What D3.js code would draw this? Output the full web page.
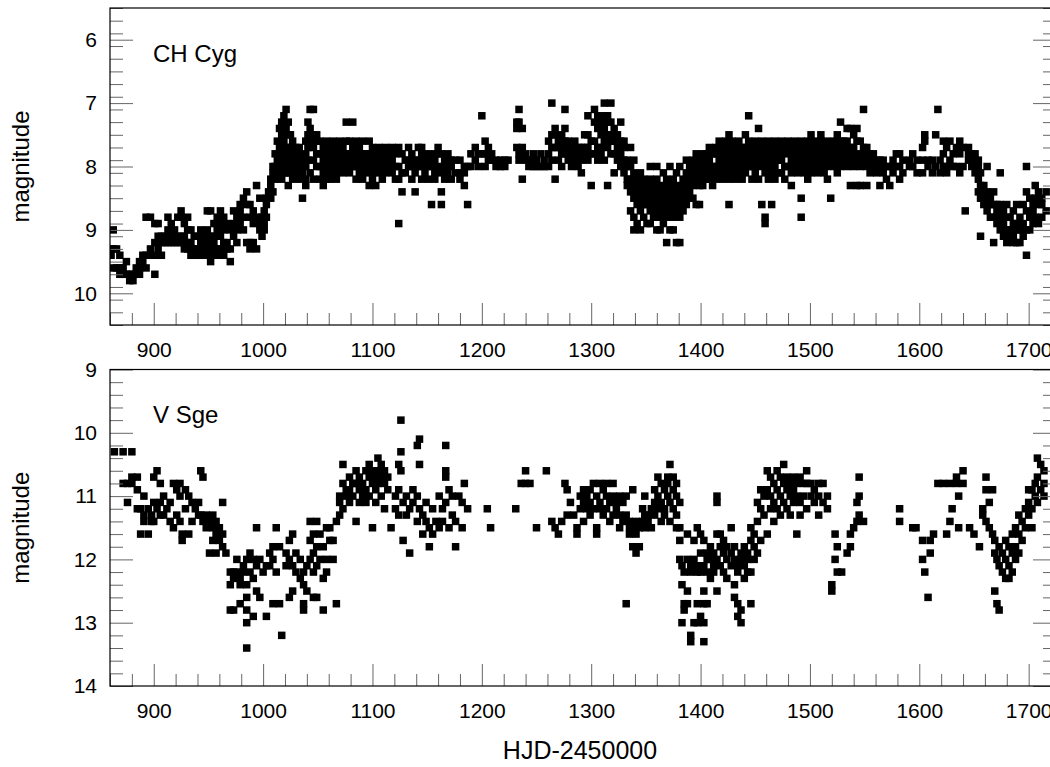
<!DOCTYPE html>
<html>
<head>
<meta charset="utf-8">
<script src="https://cdn.jsdelivr.net/npm/d3@7"></script>
<style>
  body { margin: 0; background: #fff; }
  svg { display: block; font-family: "Liberation Sans", Arial, sans-serif; }
  .tick line { stroke: #666; }
</style>
</head>
<body>
<svg width="1050" height="767"></svg>
<script>
// each row: [HJD-2450000, magnitude, magnitude, ...]
const chCygRows = [
  [861, 9.3, 9.4], [863, 9.0, 9.3, 9.6], [866, 9.3, 9.6], [869, 9.4, 9.6, 9.7],
  [872, 9.6, 9.7], [875, 9.5, 9.7], [878, 9.7, 9.8], [881, 9.8, 9.7],
  [884, 9.7, 9.6], [887, 9.6, 9.5, 9.7], [890, 9.5, 9.4], [893, 9.4, 9.6, 8.8],
  [897, 8.8, 9.3, 9.4], [901, 8.9, 9.2, 9.4, 9.7], [904, 8.9, 9.1, 9.3], [907, 9.2, 9.4, 9.1],
  [910, 9.1, 9.2], [913, 8.8, 9.0, 9.2], [916, 9.1, 9.2, 8.9], [919, 9.0, 9.2],
  [922, 9.1, 9.2, 8.8], [925, 8.7, 8.8, 9.1, 9.2], [928, 8.9, 9.1, 9.3], [931, 8.8, 9.0, 9.2, 9.3],
  [934, 9.0, 9.2, 9.4], [937, 9.1, 9.3, 9.4], [940, 9.1, 9.3, 9.4], [943, 9.0, 9.2, 9.4],
  [946, 9.1, 9.2, 9.3], [949, 8.7, 9.0, 9.2, 9.4], [952, 8.7, 9.1, 9.3, 9.5], [955, 8.9, 9.1, 9.2, 9.4],
  [958, 8.8, 9.0, 9.3, 9.4], [961, 8.7, 8.9, 9.1, 9.3], [964, 8.8, 9.0, 9.2, 9.4], [967, 8.9, 9.2, 9.3],
  [970, 9.0, 9.3, 9.5], [973, 8.7, 8.9, 9.1], [976, 8.8, 9.0, 9.2], [979, 8.6, 8.7, 8.9],
  [982, 8.5, 8.8, 9.0], [985, 8.4, 8.6, 9.2], [988, 8.6, 8.8, 9.2, 9.3], [991, 8.7, 8.9, 9.2],
  [994, 8.3, 8.8, 9.3], [997, 8.5, 8.9, 9.0], [999, 8.8, 9.1],
  [1001, 8.7, 8.9, 9.0], [1003, 8.5, 8.6, 8.8], [1005, 8.4, 8.5], [1007, 8.2, 8.3, 8.5],
  [1009, 8.0, 8.1, 8.4], [1011, 7.8, 8.0, 8.2], [1013, 7.6, 7.9, 8.1], [1015, 7.4, 7.7, 7.9, 8.0],
  [1017, 7.3, 7.5, 7.8, 8.0, 8.2], [1019, 7.2, 7.4, 7.6, 7.9, 8.1], [1021, 7.1, 7.4, 7.7, 8.0],
  [1023, 7.3, 7.5, 7.8, 8.1, 8.3], [1025, 7.5, 7.7, 7.9, 8.1], [1027, 7.6, 7.8, 8.0, 8.2],
  [1030, 7.7, 7.9, 8.1], [1033, 7.7, 7.8, 8.0, 8.2], [1036, 7.9, 8.1, 8.5], [1039, 7.6, 7.8, 8.0, 8.2, 8.3],
  [1041, 7.3, 7.5, 7.7, 7.9], [1043, 7.1, 7.4, 7.6, 8.1], [1046, 7.1, 7.5, 7.7, 7.9, 8.2],
  [1049, 7.5, 7.6, 7.8, 8.0], [1052, 7.6, 7.8, 8.0, 8.2], [1055, 7.7, 7.9, 8.1, 8.3],
  [1058, 7.6, 7.8, 8.0, 8.2], [1061, 7.7, 7.9, 8.1, 8.2], [1064, 7.6, 7.8, 8.0], [1067, 7.7, 7.9, 8.1, 8.2],
  [1070, 7.6, 7.8, 8.0], [1073, 7.7, 7.9, 8.1], [1076, 7.3, 7.6, 7.8, 8.0], [1079, 7.6, 7.8, 7.9, 8.1],
  [1082, 7.3, 7.7, 7.9, 8.0], [1085, 7.6, 7.8, 8.0, 8.2], [1088, 7.7, 7.9, 8.1], [1091, 7.6, 7.8, 8.0, 8.2],
  [1094, 7.8, 7.9, 8.1], [1097, 7.6, 7.8, 8.0, 8.3], [1100, 7.7, 7.9, 8.1, 8.2], [1103, 7.8, 8.0, 8.3],
  [1106, 7.7, 7.9, 8.1], [1109, 7.8, 8.0, 8.2], [1112, 7.7, 7.9, 8.1], [1115, 7.8, 8.0],
  [1118, 7.7, 7.9, 8.1], [1121, 7.8, 8.0, 8.2], [1124, 7.7, 8.0, 8.2, 8.9], [1127, 7.8, 8.1, 8.4],
  [1130, 7.9, 8.1], [1133, 7.7, 7.9, 8.0], [1136, 7.8, 8.0, 8.2], [1139, 7.9, 8.1, 8.4],
  [1142, 7.7, 7.9, 8.0], [1145, 7.7, 7.8, 8.0, 8.2], [1148, 7.8, 7.9, 8.1], [1151, 7.9, 8.0, 8.2],
  [1154, 7.8, 8.0, 8.6], [1157, 7.9, 8.1, 8.2], [1160, 7.7, 7.8, 8.0], [1163, 7.8, 8.1, 8.4, 8.6],
  [1166, 7.9, 8.0, 8.2], [1169, 7.8, 7.9, 8.1], [1172, 7.9, 8.0, 8.2], [1176, 7.9, 8.1],
  [1180, 7.9, 8.1, 8.2], [1184, 8.0, 8.1, 8.3], [1187, 8.0, 8.6], [1190, 7.8, 8.0],
  [1194, 7.7, 7.9], [1197, 7.8, 8.0], [1200, 7.2, 7.8], [1203, 7.6, 7.8, 8.0],
  [1206, 7.7, 7.9], [1209, 7.8, 7.9], [1213, 7.9, 8.0], [1217, 7.9, 8.0], [1221, 7.9, 8.0], [1224, 7.9],
  [1232, 7.3, 7.4, 7.7], [1234, 7.1, 7.3, 7.8, 7.9], [1237, 7.4, 7.7, 7.8, 8.2], [1240, 7.8, 7.9],
  [1243, 7.9, 8.0], [1247, 7.8, 7.9, 8.0], [1250, 7.9, 8.0], [1254, 7.8, 8.0], [1257, 7.9, 8.0],
  [1261, 7.6, 7.8, 8.0], [1264, 7.0, 7.5, 7.7, 7.9], [1267, 7.4, 7.5, 7.7, 8.2], [1270, 7.6, 7.7, 7.9],
  [1273, 7.5, 7.7, 7.8, 8.0], [1276, 7.1, 7.4, 7.6, 7.8], [1279, 7.6, 7.7, 7.9], [1282, 7.7, 7.8, 8.0],
  [1285, 7.6, 7.8, 7.9], [1288, 7.7, 7.8, 8.0], [1291, 7.7, 7.9, 8.1], [1294, 7.5, 7.7, 7.8],
  [1297, 7.2, 7.5, 7.7, 7.9], [1300, 7.6, 7.8, 8.3], [1303, 7.1, 7.3, 7.6, 7.8], [1306, 7.2, 7.4, 7.7, 7.9],
  [1309, 7.3, 7.5, 7.7, 7.8], [1312, 7.0, 7.2, 7.4, 7.6, 7.9], [1315, 7.2, 7.3, 7.5, 7.7, 8.3],
  [1318, 7.0, 7.3, 7.5, 7.6, 7.8], [1321, 7.4, 7.6, 7.8, 8.1], [1324, 7.5, 7.7, 7.9],
  [1327, 7.3, 7.6, 7.8, 8.0], [1330, 7.6, 7.7, 7.9, 8.1], [1333, 7.9, 8.0, 8.2, 8.3],
  [1336, 7.7, 8.0, 8.2, 8.4, 8.7], [1339, 7.9, 8.1, 8.3, 8.5, 8.8, 9.0],
  [1342, 8.2, 8.4, 8.6, 8.9], [1345, 8.1, 8.3, 8.5, 8.7, 9.0], [1348, 8.2, 8.4, 8.6, 8.8],
  [1351, 8.3, 8.5, 8.6, 8.9], [1354, 8.0, 8.2, 8.4, 8.7, 8.9], [1357, 8.3, 8.5, 8.6, 8.8],
  [1360, 8.0, 8.2, 8.4, 8.7, 9.0], [1363, 8.3, 8.5, 8.6, 8.8, 9.0], [1366, 8.1, 8.4, 8.5, 8.7, 8.9],
  [1369, 8.2, 8.3, 8.6, 8.8, 9.2], [1372, 8.0, 8.4, 8.5, 8.7, 9.0], [1375, 8.2, 8.3, 8.6, 8.8, 9.0],
  [1378, 8.1, 8.4, 8.5, 8.7, 9.2], [1381, 8.0, 8.3, 8.6, 8.8, 9.2], [1384, 8.2, 8.4, 8.5, 8.7],
  [1387, 7.9, 8.1, 8.3, 8.6], [1390, 8.0, 8.2, 8.4, 8.5], [1393, 7.9, 8.1, 8.3, 8.5], [1396, 7.8, 8.0, 8.2, 8.6],
  [1399, 7.9, 8.1, 8.3, 8.6], [1402, 7.8, 8.0, 8.2, 8.3], [1405, 7.8, 7.9, 8.1, 8.2], [1408, 7.7, 7.9, 8.0, 8.2],
  [1411, 7.8, 8.0, 8.1, 8.3], [1414, 7.7, 7.8, 8.0, 8.2], [1417, 7.6, 7.8, 7.9, 8.1], [1420, 7.7, 7.9, 8.0, 8.2],
  [1423, 7.6, 7.8, 8.0, 8.1], [1426, 7.5, 7.7, 7.9, 8.2, 8.6], [1429, 7.6, 7.8, 8.0, 8.1], [1432, 7.7, 7.9, 8.0, 8.2],
  [1435, 7.6, 7.8, 7.9, 8.1], [1438, 7.7, 7.8, 8.0, 8.2], [1441, 7.5, 7.7, 7.9, 8.1], [1444, 7.2, 7.6, 7.8, 8.0],
  [1447, 7.7, 7.9, 8.0, 8.2], [1450, 7.6, 7.8, 8.0, 8.1], [1453, 7.4, 7.7, 7.9, 8.2], [1456, 7.6, 7.8, 8.0, 8.6],
  [1459, 7.7, 7.9, 8.1, 8.8, 8.9], [1462, 7.6, 7.8, 8.0, 8.2], [1465, 7.7, 7.9, 8.1, 8.6], [1468, 7.6, 7.8, 8.0, 8.2],
  [1471, 7.7, 7.9, 8.1], [1474, 7.6, 7.8, 7.9, 8.1], [1477, 7.7, 8.0, 8.2], [1480, 7.6, 7.8, 8.0],
  [1483, 7.7, 7.9, 8.1, 8.3], [1486, 7.6, 7.8, 8.0], [1489, 7.7, 7.9, 8.1], [1492, 7.6, 7.8, 8.0, 8.5, 8.8],
  [1495, 7.7, 7.9, 8.1], [1498, 7.6, 7.8, 8.0, 8.2], [1501, 7.5, 7.7, 7.9, 8.1], [1504, 7.6, 7.8, 8.0],
  [1507, 7.7, 7.9, 8.1], [1510, 7.5, 7.6, 7.8, 8.0], [1513, 7.7, 7.9, 8.1], [1516, 7.6, 7.8, 8.0, 8.2],
  [1519, 7.7, 7.9, 8.5], [1522, 7.6, 7.8, 8.0], [1525, 7.5, 7.7, 7.9, 8.1], [1528, 7.3, 7.6, 7.8, 8.0],
  [1531, 7.6, 7.7, 7.9], [1534, 7.4, 7.6, 7.8, 8.0], [1537, 7.4, 7.7, 7.9, 8.3], [1540, 7.5, 7.7, 7.8, 8.0],
  [1543, 7.4, 7.6, 7.9, 8.3], [1546, 7.6, 7.8, 8.0, 8.3], [1549, 7.1, 7.7, 7.9], [1552, 7.7, 7.8, 8.0, 8.3],
  [1555, 7.8, 7.9, 8.1], [1558, 7.8, 8.0], [1561, 7.9, 8.1], [1564, 7.9, 8.0, 8.3], [1567, 7.9, 8.1],
  [1570, 8.0, 8.2], [1573, 8.0, 8.3], [1576, 7.9, 8.1], [1579, 7.8, 8.0], [1582, 7.8, 8.0, 8.2],
  [1585, 7.9, 8.1], [1591, 7.9, 8.0], [1594, 7.8, 8.0], [1598, 7.9, 8.1], [1603, 7.7, 7.9, 8.1],
  [1605, 7.5, 7.6], [1608, 7.9, 8.0], [1612, 7.9, 8.1], [1615, 7.5, 8.0], [1617, 7.1],
  [1619, 7.9, 8.1], [1622, 7.6, 7.8, 8.0], [1625, 7.7, 8.0, 8.1], [1628, 7.6, 7.9], [1631, 7.8, 8.0],
  [1634, 7.7, 8.0], [1637, 7.6, 7.8, 8.1], [1640, 7.7, 8.0], [1642, 8.7], [1645, 7.7, 7.8, 7.9],
  [1648, 7.8, 8.0], [1651, 7.8, 7.9, 8.1], [1654, 7.9, 8.0, 8.2, 8.4], [1656, 8.1, 8.3, 8.5, 9.1],
  [1659, 8.3, 8.4, 8.6], [1662, 8.0, 8.4, 8.5, 8.7], [1665, 8.5, 8.6, 8.8], [1668, 8.4, 8.6, 8.8, 9.2],
  [1671, 8.6, 8.7, 8.9], [1674, 8.1, 8.6, 8.8, 9.0], [1677, 8.7, 8.9, 9.1], [1680, 8.6, 8.8, 9.0, 9.2],
  [1683, 8.8, 9.0, 9.1], [1686, 8.7, 8.9, 9.1, 9.2], [1689, 8.6, 8.9, 9.0, 9.2], [1692, 8.8, 9.0, 9.2],
  [1695, 8.6, 8.9, 9.1], [1698, 8.0, 8.4, 8.7, 9.0, 9.4], [1701, 8.5, 8.8, 9.0], [1704, 8.6, 8.7, 8.9],
  [1706, 8.3, 8.5, 8.8], [1709, 8.4, 8.6, 8.9], [1712, 8.5, 8.6, 8.8], [1716, 8.4, 8.7]
];

const vSgeRows = [
  [864, 10.3], [872, 10.3, 10.8], [876, 11.1, 10.8], [880, 10.3, 10.7, 10.8], [885, 10.7, 10.9, 11.2],
  [888, 11.2, 11.6], [891, 11.0, 11.3, 11.4], [895, 11.2, 11.6], [898, 11.3, 11.4], [900, 10.7, 11.1, 11.4],
  [903, 10.6, 11.2], [906, 10.8, 11.1, 11.3], [909, 11.0, 11.3], [912, 11.2], [915, 11.1, 11.4],
  [918, 10.8, 11.5], [921, 10.9, 11.3], [924, 10.8, 11.0, 11.4], [926, 11.6, 11.7], [929, 10.9, 11.2],
  [932, 11.0, 11.6], [935, 11.1, 11.4], [938, 11.2], [941, 11.1, 11.3], [943, 10.6, 11.3],
  [945, 10.7, 11.4], [948, 11.3, 11.5], [951, 11.4, 11.9], [954, 11.3, 11.5, 11.7], [957, 11.4, 11.6, 11.9],
  [960, 11.5, 11.7], [963, 11.1, 11.6, 11.8], [966, 11.9], [970, 12.2, 12.4, 12.8], [973, 12.2, 12.3, 12.8],
  [976, 12.0, 12.2], [979, 12.3, 12.4, 12.7], [982, 12.1, 12.2], [985, 12.0, 12.4, 12.6, 12.8, 13.0, 13.4],
  [988, 11.9, 12.2], [991, 12.0, 12.3, 12.9], [994, 11.5, 12.1, 12.5], [997, 12.0, 12.6], [1000, 12.2],
  [1003, 12.1, 12.9], [1006, 11.9, 12.1], [1009, 11.8, 12.0, 12.7], [1012, 11.5, 12.2], [1015, 11.8, 12.7],
  [1017, 13.2], [1021, 11.9, 12.1], [1024, 11.7, 12.0, 12.6], [1027, 11.6, 12.1, 12.5], [1030, 11.9, 12.2],
  [1034, 12.0, 12.3], [1037, 12.2, 12.4, 12.7, 12.8], [1040, 12.1, 12.5], [1043, 11.4, 11.7, 12.0],
  [1046, 11.6, 11.9, 12.2, 12.6], [1049, 11.4, 11.8, 12.1, 12.6], [1052, 11.6, 12.0], [1055, 11.8, 12.3, 12.8],
  [1058, 11.5, 12.0, 12.2], [1061, 11.5, 11.7], [1064, 11.7, 12.0], [1067, 11.4, 12.7],
  [1070, 11.0, 11.1, 11.3], [1073, 10.5, 10.8, 11.2], [1076, 10.9, 11.0], [1079, 10.7, 10.9, 11.1],
  [1082, 10.8, 11.0], [1085, 10.6, 10.8, 11.4], [1088, 10.7, 10.9, 11.1], [1091, 10.8, 11.0],
  [1094, 10.6, 10.9, 11.1], [1097, 10.5, 10.7, 11.0], [1100, 10.6, 10.8, 11.5], [1103, 10.7, 10.9, 11.1],
  [1105, 10.4, 10.6, 10.8], [1108, 10.5, 10.7, 11.0], [1111, 10.6, 10.8, 11.2], [1114, 10.7, 10.9],
  [1117, 11.5], [1121, 11.0, 11.2], [1124, 10.5, 10.9, 11.3], [1126, 9.8, 10.3, 10.6], [1128, 11.1, 11.7],
  [1131, 11.0, 11.3], [1134, 11.2, 11.9], [1137, 10.9, 11.1], [1141, 10.2, 11.0, 11.4], [1143, 10.1, 10.5, 11.2],
  [1146, 11.3, 11.6], [1149, 11.1, 11.4], [1152, 11.5, 11.8], [1155, 11.2, 11.6], [1158, 11.4],
  [1161, 11.0, 11.5], [1164, 11.2, 11.4], [1167, 10.2, 10.6, 10.7, 11.1], [1170, 10.9, 11.5], [1173, 11.0, 11.3],
  [1176, 11.4, 11.8], [1179, 11.0], [1182, 11.1, 11.5], [1184, 10.8], [1187, 11.2],
  [1205, 11.2], [1208, 11.5], [1231, 11.2], [1236, 10.8], [1240, 10.6, 10.8], [1244, 10.8], [1250, 11.5],
  [1259, 10.6], [1264, 11.4], [1267, 11.5], [1270, 11.6], [1273, 11.4], [1276, 10.8], [1278, 10.9, 11.3],
  [1281, 11.1], [1284, 11.3], [1287, 11.5, 11.6], [1290, 11.0, 11.2], [1293, 10.9, 11.1, 11.4],
  [1296, 11.0, 11.2], [1299, 10.9, 11.1, 11.3], [1302, 10.8, 11.2], [1305, 11.0, 11.5, 11.6],
  [1308, 10.8, 11.1, 11.2], [1311, 10.9, 11.3], [1314, 10.8, 11.0, 11.2], [1317, 11.1, 11.4],
  [1320, 10.8, 11.0, 11.3], [1323, 11.1, 11.2], [1326, 11.0, 11.3, 11.5], [1329, 11.1, 11.4],
  [1332, 11.0, 11.3, 12.7], [1335, 11.4, 11.5, 11.6], [1338, 10.9, 11.5, 11.8], [1341, 11.4, 11.6, 11.9],
  [1344, 11.5, 11.8], [1347, 11.2, 11.4], [1349, 11.0, 11.3, 11.5], [1352, 11.3, 11.4], [1355, 11.2, 11.5],
  [1358, 10.9, 11.1, 11.3], [1361, 10.7, 11.0, 11.2], [1364, 10.8, 11.1, 11.4], [1367, 10.9, 11.2, 11.3],
  [1370, 10.7, 10.8, 11.0], [1372, 10.5, 11.1, 11.4], [1375, 10.7, 10.9, 11.2], [1378, 10.8, 11.0, 11.3, 11.5],
  [1381, 11.1, 11.5, 11.7, 12.0], [1383, 12.1, 12.4, 13.0], [1385, 12.2, 12.7, 12.8],
  [1388, 11.6, 12.0, 12.5, 12.7], [1391, 12.1, 12.2, 13.2, 13.3], [1394, 11.7, 12.0, 13.0],
  [1397, 11.5, 12.1, 12.2, 12.7, 13.0], [1400, 11.6, 11.9, 12.2, 12.9], [1403, 11.7, 12.1, 12.5, 12.7, 13.0, 13.3],
  [1406, 11.9, 12.0, 12.2, 12.7], [1409, 11.8, 12.0, 12.3], [1412, 11.9, 12.1, 12.2],
  [1415, 11.0, 11.1, 11.6, 12.0, 12.5], [1418, 11.6, 11.8, 12.1], [1421, 11.7, 11.9, 12.2],
  [1424, 11.8, 12.0, 12.3], [1428, 11.5, 11.9, 12.1], [1431, 11.8, 12.0, 12.4, 12.6],
  [1434, 12.1, 12.2, 12.7, 12.9], [1437, 11.9, 12.0, 12.8, 13.0], [1440, 11.8, 12.1, 12.3],
  [1443, 11.9, 12.0, 12.2], [1446, 11.5, 11.7, 12.2, 12.7], [1449, 11.6, 11.8, 12.0], [1452, 11.1, 11.4, 11.9],
  [1455, 10.9, 11.2, 11.7], [1458, 11.0, 11.3], [1461, 10.6, 10.9, 11.6], [1464, 10.7, 11.0, 11.2],
  [1467, 10.8, 11.1, 11.4], [1470, 10.6, 10.9, 11.2], [1473, 10.7, 11.0, 11.3], [1476, 10.5, 10.8, 11.1],
  [1479, 10.7, 10.9, 11.2], [1482, 10.8, 11.0, 11.3], [1485, 10.7, 10.9, 11.1], [1488, 10.8, 11.0, 11.6],
  [1491, 10.7, 11.1, 11.3], [1494, 10.8, 11.0], [1497, 10.6, 10.8, 11.2], [1501, 10.8, 11.0],
  [1504, 10.9, 11.1], [1508, 10.8, 11.0, 11.3], [1512, 10.8, 11.1], [1516, 11.0, 11.2],
  [1520, 12.4, 12.5], [1523, 11.6, 12.0], [1525, 11.8, 12.2], [1529, 12.2], [1534, 11.9],
  [1537, 11.6, 11.8], [1540, 11.5], [1543, 11.1, 11.4], [1545, 10.7, 11.0, 11.3], [1549, 11.4],
  [1582, 11.2, 11.4], [1594, 11.5], [1597, 11.5], [1603, 11.7, 12.0], [1605, 12.2], [1608, 12.6],
  [1610, 11.7, 11.9], [1613, 11.6], [1617, 10.8], [1622, 10.8], [1625, 11.6], [1628, 10.8, 11.4],
  [1630, 11.2], [1634, 10.7, 10.8], [1636, 11.0, 11.5], [1640, 10.6, 10.8], [1646, 11.5], [1650, 11.6],
  [1655, 11.8], [1658, 11.2, 11.3], [1661, 10.7, 10.9, 11.4], [1664, 11.1, 11.5], [1667, 10.9, 11.6],
  [1669, 11.7, 11.9, 12.5], [1671, 12.0, 12.7], [1673, 11.8, 12.1, 12.8], [1676, 11.9, 12.2],
  [1679, 11.7, 12.0, 12.3], [1682, 11.8, 12.1, 12.3], [1685, 11.6, 11.9, 12.2], [1688, 11.5, 11.8, 12.0],
  [1691, 11.3, 11.6, 11.9], [1694, 11.4, 11.7], [1697, 11.2, 11.5], [1700, 10.9, 11.1, 11.3],
  [1703, 10.9, 11.2, 11.5], [1706, 10.8, 11.0], [1708, 10.4, 10.7, 11.1], [1711, 10.5, 10.9],
  [1714, 10.6, 10.8, 11.0]
];

const xDomain = [860, 1725];
const xTicks = [900, 1000, 1100, 1200, 1300, 1400, 1500, 1600, 1700];
const chCygTicks = [6, 7, 8, 9, 10];
const vSgeTicks = [9, 10, 11, 12, 13, 14];

const svg = d3.select("svg");
const left = 110, right = 1056, markSize = 7.5;

const x = d3.scaleLinear().domain(xDomain).range([left, right]);
const xMinor = d3.range(860, 1726, 20).filter(v => v % 100 !== 0);

const panels = [
  {name: "CH Cyg", rows: chCygRows, domain: [5.5, 10.5], ticks: chCygTicks, top: 8, bottom: 325, nameY: 62},
  {name: "V Sge", rows: vSgeRows, domain: [9, 14], ticks: vSgeTicks, top: 369.5, bottom: 686, nameY: 423}
];

svg.append("defs").append("clipPath").attr("id", "plotclip")
  .append("rect").attr("x", left).attr("y", 0).attr("width", right - left).attr("height", 767);

panels.forEach((p, i) => {
  const y = d3.scaleLinear().domain(p.domain).range([p.top, p.bottom]);
  const yMinor = d3.range(p.domain[0], p.domain[1] + 0.001, 0.2)
    .map(v => +v.toFixed(1))
    .filter(v => !p.ticks.includes(v));
  const pts = p.rows.flatMap(([d, ...m]) => m.map(v => ({day: d, mag: v})));

  const g = svg.append("g");

  // points
  g.append("g").attr("clip-path", "url(#plotclip)")
    .selectAll("rect")
    .data(pts)
    .join("rect")
    .attr("x", d => x(d.day) - markSize / 2)
    .attr("y", d => y(d.mag) - markSize / 2)
    .attr("width", markSize)
    .attr("height", markSize)
    .attr("fill", "#000");

  // bottom axis, ticks point inward
  const xa = g.append("g").attr("transform", `translate(0,${p.bottom})`)
    .call(d3.axisBottom(x).tickValues(xTicks).tickSize(-22).tickPadding(17).tickFormat(d3.format("d")));
  g.append("g").attr("transform", `translate(0,${p.bottom})`)
    .call(d3.axisBottom(x).tickValues(xMinor).tickSize(-12).tickFormat(""));

  // left / right axes
  g.append("g").attr("transform", `translate(${left},0)`)
    .call(d3.axisLeft(y).tickValues(p.ticks).tickSize(-23).tickPadding(13).tickFormat(d3.format("d")));
  g.append("g").attr("transform", `translate(${left},0)`)
    .call(d3.axisLeft(y).tickValues(yMinor).tickSize(-13).tickFormat(""));
  g.append("g").attr("transform", `translate(${right},0)`)
    .call(d3.axisRight(y).tickValues(p.ticks).tickSize(-23).tickFormat(""));
  g.append("g").attr("transform", `translate(${right},0)`)
    .call(d3.axisRight(y).tickValues(yMinor).tickSize(-13).tickFormat(""));

  g.selectAll(".domain").remove();
  g.selectAll(".tick text")
    .attr("fill", "#000")
    .style("font-size", "21px")
    .style("font-family", "'Liberation Sans', Arial, sans-serif");

  // frame
  g.append("rect")
    .attr("x", left).attr("y", p.top)
    .attr("width", right - left).attr("height", p.bottom - p.top)
    .attr("fill", "none").attr("stroke", "#000").attr("stroke-width", 1.2);

  g.append("text")
    .attr("x", 153).attr("y", p.nameY)
    .style("font-size", "24px")
    .text(p.name);

  g.append("text")
    .attr("transform", `translate(29,${(p.top + p.bottom) / 2}) rotate(-90)`)
    .attr("text-anchor", "middle")
    .style("font-size", "24px")
    .text("magnitude");
});

svg.append("text")
  .attr("x", 580).attr("y", 759)
  .attr("text-anchor", "middle")
  .style("font-size", "25px")
  .text("HJD-2450000");
</script>
</body>
</html>
